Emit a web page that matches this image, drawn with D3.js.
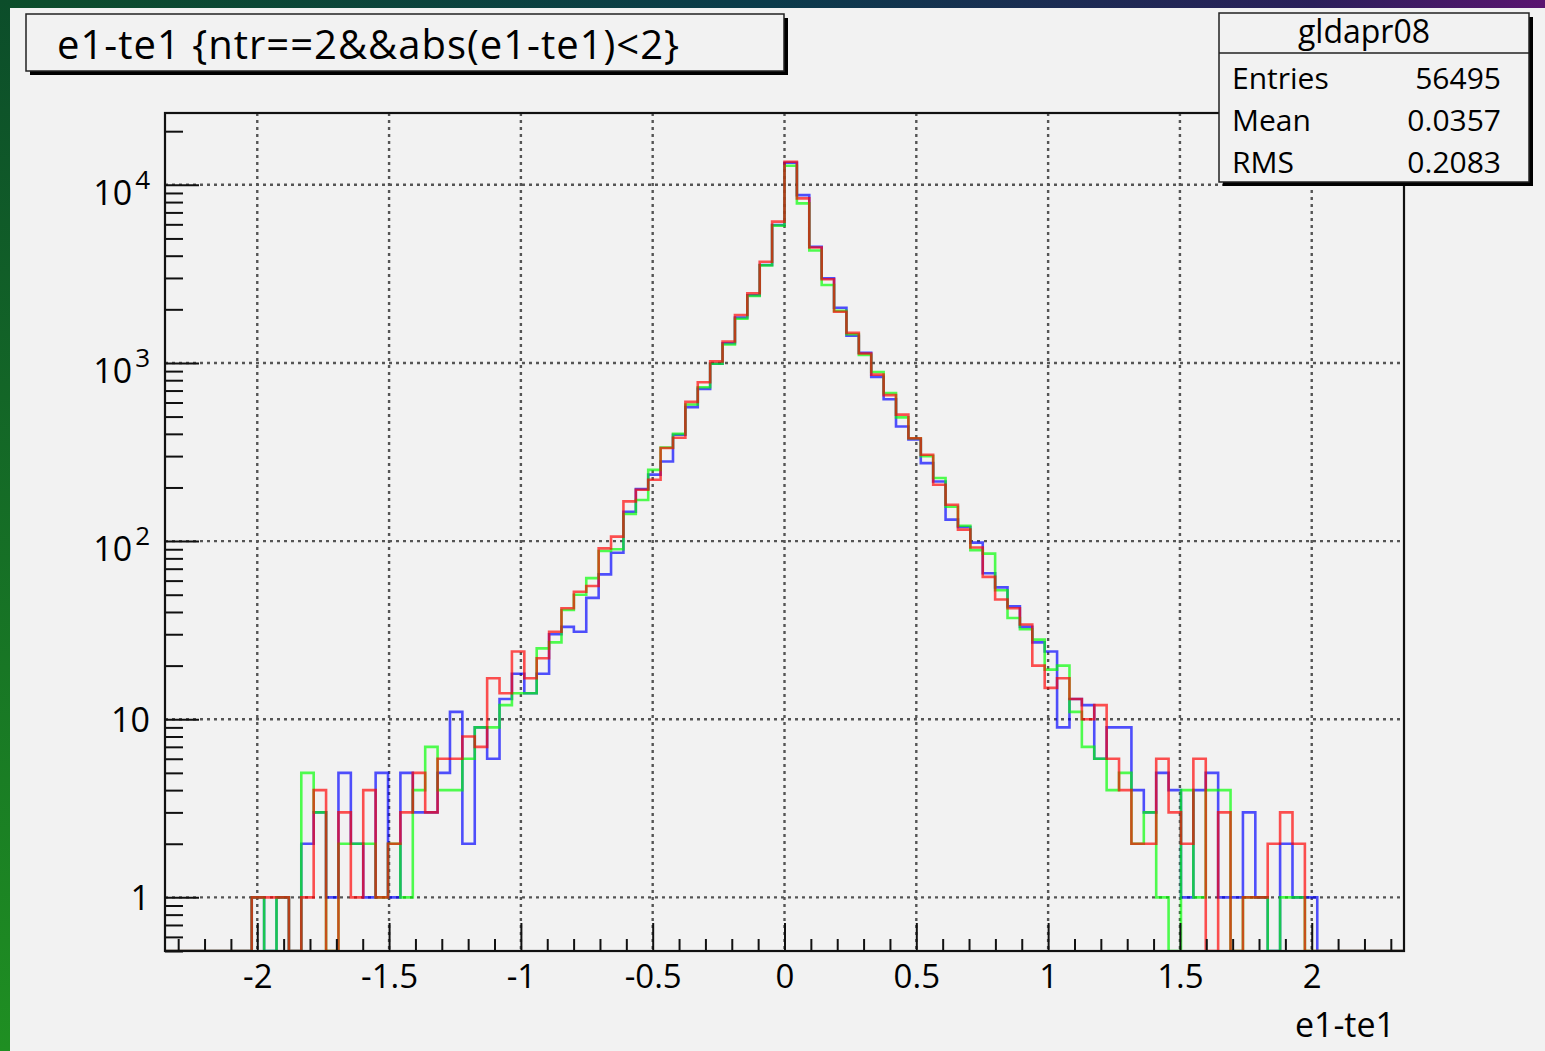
<!DOCTYPE html>
<html>
<head>
<meta charset="utf-8">
<script src="https://cdn.jsdelivr.net/npm/d3@7"></script>
<style>
  body { margin: 0; background: #f2f2f2; }
  svg { display: block; font-family: "Open Sans", sans-serif; }
</style>
</head>
<body>
<svg id="chart" width="1545" height="1051"></svg>
<script>
// histogram binning (100 bins, as ROOT draws it)
const binCount = 100;
const xMin = -2.35, xMax = 2.35;
const yMin = 0.5, yMax = 25300;

// bin contents, left to right
const blueCounts = [
  0, 0, 0, 0, 0, 0, 0, 1, 0, 1,
  0, 2, 3, 1, 5, 2, 1, 5, 1, 5,
  3, 3, 5, 11, 2, 9, 6, 13, 18, 14,
  18, 30, 33, 31, 48, 65, 86, 146, 196, 236,
  280, 395, 565, 715, 990, 1290, 1800, 2400, 3550, 5950,
  13300, 8750, 4490, 2990, 2040, 1420, 1140, 835, 625, 440,
  372, 274, 216, 132, 120, 98, 66, 55, 43, 33,
  27, 24, 9, 13, 12, 6, 9, 9, 4, 3,
  5, 4, 1, 4, 5, 1, 1, 3, 1, 0,
  2, 1, 1, 0, 0, 0, 0, 0, 0, 0
];
const greenCounts = [
  0, 0, 0, 0, 0, 0, 0, 1, 0, 1,
  0, 5, 3, 0, 2, 2, 2, 1, 2, 1,
  4, 7, 4, 4, 6, 9, 9, 12, 14, 14,
  25, 27, 41, 50, 62, 88, 90, 142, 170, 251,
  335, 400, 585, 730, 990, 1270, 1770, 2380, 3530, 5900,
  12800, 7870, 4280, 2740, 1960, 1450, 1110, 890, 677, 495,
  378, 300, 226, 156, 122, 89, 85, 53, 37, 32,
  28, 19, 20, 11, 7, 6, 4, 5, 2, 3,
  1, 0, 4, 1, 4, 4, 0, 1, 1, 0,
  1, 1, 0, 0, 0, 0, 0, 0, 0, 0
];
const redCounts = [
  0, 0, 0, 0, 0, 0, 0, 1, 1, 1,
  0, 1, 4, 0, 3, 1, 4, 1, 2, 3,
  5, 3, 6, 6, 8, 7, 17, 14, 24, 17,
  22, 31, 42, 52, 56, 91, 106, 167, 194, 221,
  333, 380, 605, 780, 1020, 1320, 1860, 2460, 3700, 6210,
  13480, 8390, 4450, 2950, 1940, 1475, 1130, 860, 660, 513,
  378, 305, 207, 160, 116, 92, 63, 47, 42, 34,
  20, 15, 17, 13, 10, 12, 6, 4, 2, 2,
  6, 3, 2, 6, 0, 3, 0, 1, 1, 2,
  3, 2, 0, 0, 0, 0, 0, 0, 0, 0
];

const seriesColors = ["#0000ff", "#00ff00", "#ff0000"];

const xMajorTicks = [-2, -1.5, -1, -0.5, 0, 0.5, 1, 1.5, 2];
const xTickLabels = ["-2", "-1.5", "-1", "-0.5", "0", "0.5", "1", "1.5", "2"];
const yDecades = [1, 10, 100, 1000, 10000];
const yBaseLabels = ["1", "10", "10", "10", "10"];
const yExpLabels = ["", "", "2", "3", "4"];

const titleText = "e1-te1 {ntr==2&&abs(e1-te1)<2}";
const axisTitle = "e1-te1";
const statsName = "gldapr08";
const statsLabels = ["Entries", "Mean", "RMS"];
const statsValues = ["56495", "0.0357", "0.2083"];

const svg = d3.select("#chart");
const W = 1545, H = 1051;
const frame = { left: 165, right: 1404, top: 113, bottom: 951 };

const x = d3.scaleLinear().domain([xMin, xMax]).range([frame.left, frame.right]);
const y = d3.scaleLog().domain([yMin, yMax]).range([frame.bottom, frame.top]);

// slide background strips
const defs = svg.append("defs");
const gTop = defs.append("linearGradient").attr("id", "topStrip");
gTop.append("stop").attr("offset", "0%").attr("stop-color", "#0c4d2a");
gTop.append("stop").attr("offset", "50%").attr("stop-color", "#0b3b4b");
gTop.append("stop").attr("offset", "85%").attr("stop-color", "#2a1f5a");
gTop.append("stop").attr("offset", "100%").attr("stop-color", "#5a1470");
const gLeft = defs.append("linearGradient").attr("id", "leftStrip")
  .attr("x1", 0).attr("y1", 0).attr("x2", 0).attr("y2", 1);
gLeft.append("stop").attr("offset", "0%").attr("stop-color", "#0c4d2a");
gLeft.append("stop").attr("offset", "100%").attr("stop-color", "#1f8f22");

defs.append("clipPath").attr("id", "frameClip")
  .append("rect")
  .attr("x", frame.left).attr("y", frame.top)
  .attr("width", frame.right - frame.left).attr("height", frame.bottom - frame.top);

svg.append("rect").attr("width", W).attr("height", H).attr("fill", "#f2f2f2");
svg.append("rect").attr("x", 0).attr("y", 0).attr("width", W).attr("height", 8).attr("fill", "url(#topStrip)");
svg.append("rect").attr("x", 0).attr("y", 0).attr("width", 10).attr("height", H).attr("fill", "url(#leftStrip)");

// grid
const grid = svg.append("g").attr("stroke", "#555").attr("stroke-width", 2.4)
  .attr("stroke-dasharray", "3,4");
grid.selectAll(".vgrid").data(xMajorTicks).enter().append("line")
  .attr("x1", d => x(d)).attr("x2", d => x(d))
  .attr("y1", frame.top).attr("y2", frame.bottom);
grid.selectAll(".hgrid").data(yDecades).enter().append("line")
  .attr("x1", frame.left).attr("x2", frame.right)
  .attr("y1", d => y(d)).attr("y2", d => y(d));

// histograms as step outlines
const binWidth = (xMax - xMin) / binCount;
function stepPoints(counts) {
  const pts = [];
  counts.forEach((c, i) => {
    const v = c > 0 ? c : yMin;
    pts.push([xMin + i * binWidth, v]);
    pts.push([xMin + (i + 1) * binWidth, v]);
  });
  return pts;
}
const line = d3.line().x(d => x(d[0])).y(d => y(d[1]));

const histG = svg.append("g").attr("clip-path", "url(#frameClip)");
[blueCounts, greenCounts, redCounts].forEach((counts, k) => {
  histG.append("path")
    .attr("d", line(stepPoints(counts)))
    .attr("fill", "none")
    .attr("stroke", seriesColors[k])
    .attr("stroke-opacity", 0.68)
    .attr("stroke-width", 2.6)
    .attr("stroke-linejoin", "miter");
});

// axes, ticks drawn inward like ROOT
const xMinor = d3.range(-23, 24).map(k => k / 10).filter(v => Math.abs(v * 2 - Math.round(v * 2)) > 1e-6);
const xAxisMinor = d3.axisBottom(x).tickValues(xMinor).tickSize(-12).tickFormat("");
const xAxisMajor = d3.axisBottom(x).tickValues(xMajorTicks).tickSize(-28).tickPadding(14)
  .tickFormat((d, i) => xTickLabels[i]);

const gxMinor = svg.append("g").attr("transform", `translate(0,${frame.bottom})`).call(xAxisMinor);
const gxMajor = svg.append("g").attr("transform", `translate(0,${frame.bottom})`).call(xAxisMajor);
[gxMinor, gxMajor].forEach(g => {
  g.select(".domain").remove();
  g.selectAll("line").attr("stroke", "#111").attr("stroke-width", 2);
});
gxMajor.selectAll("text").attr("font-size", 33).attr("fill", "#000")
  .attr("font-family", "Open Sans, sans-serif");

const yMinor = y.ticks().filter(v => !yDecades.includes(v) && v >= yMin && v <= yMax);
const yAxisMinor = d3.axisLeft(y).tickValues(yMinor).tickSize(-18).tickFormat("");
const yAxisMajor = d3.axisLeft(y).tickValues(yDecades).tickSize(-34).tickFormat("");
const gyMinor = svg.append("g").attr("transform", `translate(${frame.left},0)`).call(yAxisMinor);
const gyMajor = svg.append("g").attr("transform", `translate(${frame.left},0)`).call(yAxisMajor);
[gyMinor, gyMajor].forEach(g => {
  g.select(".domain").remove();
  g.selectAll("line").attr("stroke", "#111").attr("stroke-width", 2);
});

// y labels with exponents
const yLab = svg.append("g").attr("font-size", 34).attr("fill", "#000").attr("text-anchor", "end");
yDecades.forEach((d, i) => {
  const t = yLab.append("text").attr("x", 150)
    .attr("y", y(d) + (yExpLabels[i] ? 20 : 13));
  t.append("tspan").text(yBaseLabels[i]);
  if (yExpLabels[i]) {
    t.append("tspan").attr("dx", 3).attr("dy", -16).attr("font-size", 26).text(yExpLabels[i]);
  }
});

// frame
svg.append("rect")
  .attr("x", frame.left).attr("y", frame.top)
  .attr("width", frame.right - frame.left).attr("height", frame.bottom - frame.top)
  .attr("fill", "none").attr("stroke", "#111").attr("stroke-width", 2.2);

// axis title
svg.append("text").attr("x", 1395).attr("y", 1037)
  .attr("text-anchor", "end").attr("font-size", 34).text(axisTitle);

// title box
const tb = { x: 26, y: 14, w: 758, h: 57 };
svg.append("rect").attr("x", tb.x + 4).attr("y", tb.y + 4).attr("width", tb.w).attr("height", tb.h).attr("fill", "#000");
svg.append("rect").attr("x", tb.x).attr("y", tb.y).attr("width", tb.w).attr("height", tb.h)
  .attr("fill", "#f2f2f2").attr("stroke", "#222").attr("stroke-width", 1.5);
svg.append("text").attr("x", 57).attr("y", 59).attr("font-size", 40)
  .attr("letter-spacing", 1).text(titleText);

// stats box
const sb = { x: 1219, y: 13, w: 310, h: 169 };
svg.append("rect").attr("x", sb.x + 4).attr("y", sb.y + 4).attr("width", sb.w).attr("height", sb.h).attr("fill", "#000");
svg.append("rect").attr("x", sb.x).attr("y", sb.y).attr("width", sb.w).attr("height", sb.h)
  .attr("fill", "#f2f2f2").attr("stroke", "#222").attr("stroke-width", 1.5);
svg.append("line").attr("x1", sb.x).attr("x2", sb.x + sb.w).attr("y1", 53).attr("y2", 53)
  .attr("stroke", "#222").attr("stroke-width", 1.5);
svg.append("text").attr("x", sb.x + sb.w / 2 - 10).attr("y", 43).attr("text-anchor", "middle")
  .attr("font-size", 32).text(statsName);
statsLabels.forEach((lab, i) => {
  const by = 89 + i * 42;
  svg.append("text").attr("x", 1232).attr("y", by).attr("font-size", 30).text(lab);
  svg.append("text").attr("x", 1501).attr("y", by).attr("text-anchor", "end")
    .attr("font-size", 30).text(statsValues[i]);
});
</script>
</body>
</html>
